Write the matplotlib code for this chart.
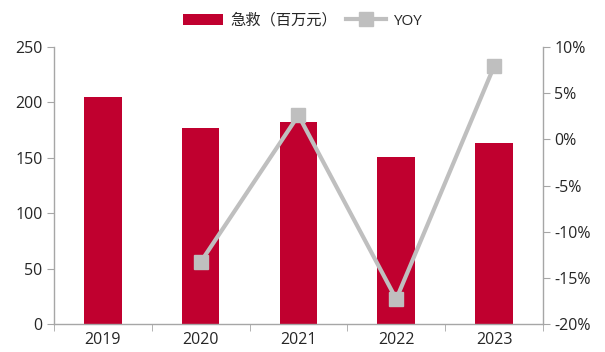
import matplotlib
matplotlib.use("Agg")
import matplotlib.pyplot as plt
from matplotlib.ticker import FuncFormatter

plt.rcParams['font.family'] = ['Open Sans', 'Noto Sans CJK SC', 'DejaVu Sans']

years = ['2019', '2020', '2021', '2022', '2023']
revenue = [205, 177, 182, 150.5, 163]          # 急救（百万元）
yoy_years = ['2020', '2021', '2022', '2023']
yoy = [-13.3, 2.6, -17.3, 7.9]                  # YOY, %

bar_color = '#C0002F'
line_color = '#BFBFBF'
axis_color = '#A6A6A6'
text_color = '#262626'

fig = plt.figure(figsize=(6.05, 3.52), dpi=100)
ax = fig.add_axes([0.089, 0.0795, 0.8085, 0.787])
ax2 = ax.twinx()

x = list(range(len(years)))
ax.bar(x, revenue, width=0.385, color=bar_color, label='急救（百万元）', zorder=2)
yx = [years.index(y) for y in yoy_years]
ax2.plot(yx, yoy, color=line_color, lw=3, marker='s', ms=10, mec=line_color,
         mfc=line_color, label='YOY', zorder=3)

ax.set_xlim(-0.5, len(years) - 0.5)
ax.set_ylim(0, 250)
ax.set_yticks(range(0, 251, 50))
ax2.set_ylim(-20, 10)
ax2.set_yticks(range(-20, 11, 5))
ax2.yaxis.set_major_formatter(FuncFormatter(lambda v, p: '%d%%' % v))

ax.set_xticks(x)
ax.set_xticklabels(years)
ax.set_xticks([i + 0.5 for i in range(-1, len(years))], minor=True)

for a in (ax, ax2):
    for s in a.spines.values():
        s.set_visible(False)
    a.tick_params(labelsize=11.5, colors=text_color, length=5)
    a.tick_params(axis='y', color=axis_color, pad=3)
ax.tick_params(axis='x', which='major', length=0, pad=6)
ax.tick_params(axis='x', which='minor', length=5, color=axis_color)
ax.spines['left'].set_visible(True)
ax.spines['bottom'].set_visible(True)
ax2.spines['right'].set_visible(True)
for s in (ax.spines['left'], ax.spines['bottom'], ax2.spines['right']):
    s.set_color(axis_color)
    s.set_linewidth(1)

# legend on top
h1, l1 = ax.get_legend_handles_labels()
h2, l2 = ax2.get_legend_handles_labels()
fig.legend(h1 + h2, l1 + l2, loc='upper center', bbox_to_anchor=(0.5, 1.0),
           ncol=2, frameon=False, fontsize=11, handlelength=2.6,
           columnspacing=0.6, handletextpad=0.5, labelcolor=text_color)

fig.savefig('out.png', dpi=100)
